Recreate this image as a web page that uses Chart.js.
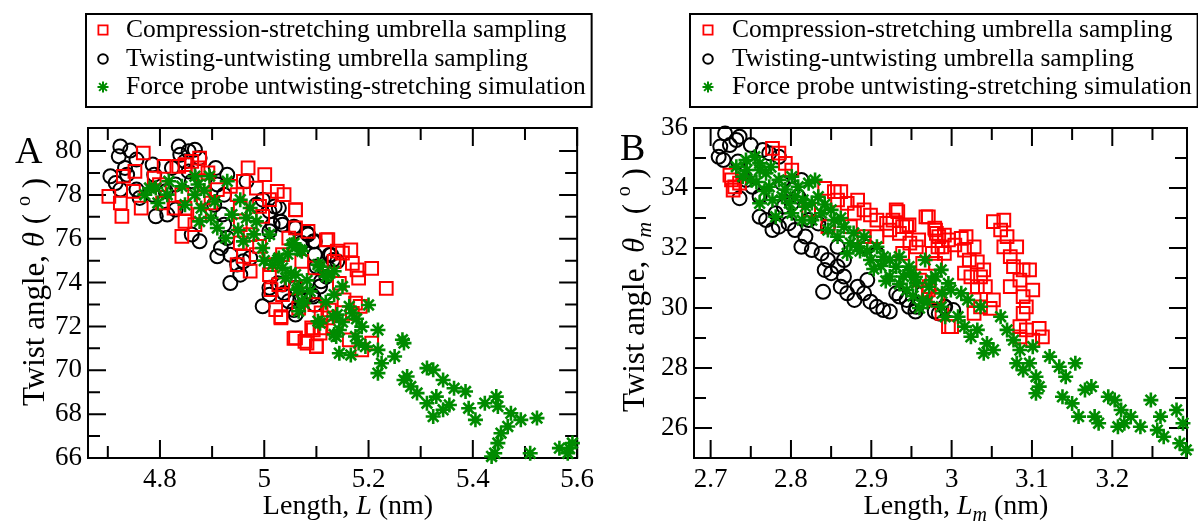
<!DOCTYPE html>
<html>
<head>
<meta charset="utf-8">
<script src="https://cdn.jsdelivr.net/npm/chart.js@4.4.0/dist/chart.umd.min.js"></script>
<style>
  body { margin: 0; background: #fff; width: 1198px; height: 523px; overflow: hidden; position: relative; }
  canvas { position: absolute; top: 0; }
</style>
</head>
<body>
<canvas id="chartA" width="600" height="523" style="left:0"></canvas>
<canvas id="chartB" width="598" height="523" style="left:600px"></canvas>
<script>
// ---- panel A: length L (nm) vs twist angle theta (deg) ----
const compA = [
  [4.702,77.93],[4.724,77.63],[4.727,77.02],[4.730,78.85],[4.752,79.07],[4.768,79.91],[4.749,78.16],[4.764,77.40],
  [4.789,78.77],[4.799,78.47],[4.808,79.30],[4.805,77.63],[4.827,77.40],[4.836,79.30],[4.848,79.38],[4.861,79.53],
  [4.876,79.68],[4.873,79.23],[4.892,79.00],[4.883,78.62],[4.842,78.01],[4.848,77.40],[4.848,76.79],[4.842,76.11],
  [4.867,76.64],[4.876,77.10],[4.883,77.86],[4.898,77.63],[4.910,78.24],[4.935,78.39],[4.948,78.01],[4.954,77.40],
  [4.960,78.62],[4.969,79.23],[5.001,78.92],[4.985,78.31],[4.991,77.48],[4.997,77.02],[5.010,77.78],[5.025,78.16],
  [5.038,78.01],[5.060,77.33],[4.954,76.64],[4.973,76.19],[4.954,75.81],[4.960,75.20],[4.948,74.82],[4.973,74.52],
  [4.985,75.27],[4.991,75.65],[5.013,74.82],[5.035,75.27],[5.047,76.03],[5.060,76.49],[5.084,76.34],[5.122,75.96],
  [5.072,74.97],[5.097,74.67],[5.060,73.76],[5.035,73.45],[5.010,74.36],[5.028,73.91],[5.013,73.68],[5.022,72.77],
  [5.032,72.39],[5.060,71.48],[5.078,71.32],[5.100,71.10],[5.091,71.93],[5.109,72.62],[5.109,71.93],[5.134,74.97],
  [5.140,75.43],[5.066,72.84],[5.097,72.99],[5.122,72.39],[5.060,77.31],[5.119,75.95],[5.150,75.34],[5.166,75.49],
  [5.169,74.88],[5.178,74.58],[5.206,74.65],[5.234,73.74],[5.181,74.20],[5.144,73.97],[5.153,73.21],[5.175,73.06],
  [5.184,72.91],[5.169,72.60],[5.125,72.75],[5.132,71.99],[5.094,71.84],[5.107,71.69],[5.057,71.46],[5.082,71.24],
  [5.100,71.08],[5.187,70.93],[5.206,71.24],[5.032,72.45],[5.163,71.39]
];
const twistA = [
  [4.724,80.21],[4.743,80.02],[4.721,79.76],[4.755,79.61],[4.733,79.23],[4.705,78.85],[4.715,78.54],[4.724,78.24],
  [4.737,78.92],[4.755,78.24],[4.761,77.86],[4.786,79.38],[4.789,78.92],[4.786,78.01],[4.792,77.02],[4.811,78.16],
  [4.814,77.10],[4.830,77.33],[4.836,80.21],[4.839,79.83],[4.855,79.99],[4.867,80.06],[4.876,79.68],[4.848,79.53],
  [4.855,79.07],[4.861,78.62],[4.823,79.23],[4.830,78.47],[4.907,79.23],[4.929,78.92],[4.910,78.47],[4.923,78.01],
  [4.904,77.55],[4.920,77.10],[4.923,76.64],[4.929,76.03],[4.876,75.88],[4.861,76.19],[4.917,75.58],[4.910,75.20],
  [4.935,75.27],[4.948,74.82],[4.960,74.97],[4.935,73.98],[4.954,74.36],[4.973,75.12],[4.966,78.62],[4.985,77.55],
  [4.997,77.78],[5.010,77.25],[5.028,77.40],[5.016,76.64],[5.035,76.64],[5.010,76.34],[5.060,76.49],[5.084,76.19],
  [5.097,75.88],[5.072,75.81],[5.097,75.27],[5.128,75.27],[5.140,74.97],[5.122,74.67],[5.109,74.06],[5.010,73.76],
  [4.997,72.92],[5.010,73.45],[5.035,73.91],[5.060,73.76],[5.060,72.54],[5.047,73.15],[5.078,73.30],[5.091,73.45],
  [5.097,72.99],[5.020,77.47],[5.032,76.78],[5.057,76.55],[5.082,76.25],[5.094,75.87],[5.125,75.26],[5.132,75.03],
  [5.100,74.73],[5.119,74.27],[5.107,73.82],[5.094,73.36],[5.069,73.21],[5.057,72.75],[5.038,73.52],[5.026,73.97]
];
const forceA = [
  [4.780,78.31],[4.796,77.63],[4.814,78.01],[4.817,78.62],[4.842,78.39],[4.867,78.85],[4.895,78.85],[4.929,78.62],
  [4.867,78.01],[4.879,77.40],[4.876,76.79],[4.898,76.95],[4.910,76.49],[4.926,76.03],[4.954,77.78],[4.960,75.88],
  [4.966,76.95],[4.985,76.79],[5.010,76.19],[4.997,75.58],[5.028,75.12],[5.035,74.67],[5.053,75.73],[5.072,75.43],
  [5.060,74.36],[5.066,73.76],[5.072,73.15],[5.066,72.69],[5.103,74.82],[5.122,74.36],[5.134,74.52],[5.134,73.45],
  [5.140,72.54],[5.103,72.24],[5.134,71.63],[5.016,74.82],[4.873,78.47],[4.848,77.55],[4.792,78.31],[4.771,78.01],
  [4.973,77.40],[5.041,74.21],[5.026,75.03],[5.057,75.79],[5.069,75.49],[5.051,74.43],[5.063,73.67],[5.076,73.06],
  [5.107,74.73],[5.119,74.27],[5.150,73.82],[5.163,72.91],[5.169,72.60],[5.132,72.45],[5.107,72.15],[5.144,71.84],
  [5.138,71.54],[5.144,70.78],[5.166,70.70],[5.175,71.54],[5.187,71.99],[5.200,72.98],[5.218,71.84],[5.218,70.93],
  [5.181,71.24],[5.194,71.08],[5.225,70.32],[5.218,69.87],[5.250,70.63],[5.265,71.39],[5.268,71.24],[5.268,69.56],
  [5.274,69.72],[5.281,69.26],[5.293,68.96],[5.312,70.10],[5.324,70.02],[5.343,69.56],[5.364,69.18],[5.386,69.03],
  [5.312,68.50],[5.330,68.80],[5.324,67.89],[5.343,68.20],[5.355,68.42],[5.392,68.27],[5.405,67.74],[5.423,68.50],
  [5.445,68.80],[5.448,68.35],[5.473,68.04],[5.492,67.74],[5.523,67.82],[5.467,67.44],[5.454,67.13],[5.448,66.68],
  [5.442,66.22],[5.436,66.07],[5.510,66.22],[5.566,66.45],[5.585,66.45],[5.591,66.68],[5.582,66.22],
  [4.885,78.20],[4.905,77.70],[4.938,77.10],[4.950,76.40],[4.980,76.20],[5.000,75.00],[5.045,75.30],[5.082,74.10],
  [5.088,73.60],[5.118,73.10],[5.150,72.20],[5.177,72.35]
];

// ---- panel B: length Lm (nm) vs twist angle theta_m (deg) ----
const compB = [
  [2.724,34.43],[2.730,34.04],[2.728,33.93],[2.736,34.16],[2.726,34.27],[2.777,35.32],[2.785,35.16],[2.793,34.82],
  [2.801,34.60],[2.842,33.99],[2.854,33.88],[2.862,33.88],[2.858,33.60],[2.870,33.49],[2.883,33.60],[2.891,33.27],
  [2.879,33.16],[2.899,33.10],[2.907,32.93],[2.919,32.82],[2.927,32.93],[2.931,33.27],[2.923,32.60],[2.944,32.71],
  [2.948,32.16],[2.956,32.04],[2.968,33.04],[2.980,32.60],[2.984,32.38],[2.976,31.82],[2.980,31.49],[2.988,32.04],
  [2.996,32.27],[2.960,30.93],[2.980,30.27],[2.988,29.82],[2.996,29.38],[2.822,33.27],[2.846,32.71],[2.874,32.71],
  [2.891,32.38],[2.907,32.38],[2.939,31.82],[2.964,31.49],[2.972,30.71],[2.933,33.21],[2.947,32.77],[2.971,33.04],
  [2.979,32.66],[2.981,32.49],[2.991,32.43],[3.012,32.32],[3.018,32.38],[3.004,32.10],[3.016,31.93],[3.028,32.04],
  [3.022,31.60],[3.032,31.54],[3.040,31.27],[3.016,31.16],[3.024,31.04],[3.036,31.04],[3.032,30.71],[3.042,30.71],
  [3.028,30.27],[3.052,30.27],[3.036,30.04],[3.028,29.82],[3.048,29.99],[3.000,29.38],[3.052,32.88],[3.065,32.93],
  [3.061,32.60],[3.069,32.38],[3.065,32.04],[3.073,31.71],[3.081,32.04],[3.077,31.38],[3.089,31.27],[3.097,31.27],
  [3.085,30.93],[3.073,30.71],[3.101,30.60],[3.089,30.38],[3.093,30.04],[3.089,29.82],[3.085,29.38],[3.093,29.27],
  [3.109,29.32],[3.113,29.04],[3.101,28.93],[3.085,29.04],[2.983,32.04],[2.991,31.82],[2.935,32.49],[2.959,32.27],
  [2.971,30.60],[2.983,30.38],[2.939,32.71]
];
const twistB = [
  [2.718,35.82],[2.724,35.43],[2.712,35.38],[2.710,35.04],[2.716,34.93],[2.732,35.60],[2.736,35.71],[2.750,35.43],
  [2.734,34.88],[2.740,34.49],[2.736,33.66],[2.744,34.27],[2.752,34.04],[2.761,33.71],[2.761,33.04],[2.769,32.93],
  [2.777,32.60],[2.785,32.71],[2.781,33.16],[2.791,33.38],[2.789,34.16],[2.801,33.93],[2.809,33.71],[2.801,33.49],
  [2.785,35.04],[2.773,35.16],[2.765,35.27],[2.813,34.27],[2.805,32.60],[2.818,32.38],[2.826,31.93],[2.813,32.04],
  [2.838,31.82],[2.846,31.60],[2.842,31.27],[2.850,31.16],[2.858,31.38],[2.866,31.05],[2.862,30.71],[2.870,30.49],
  [2.879,30.27],[2.883,30.71],[2.891,30.49],[2.895,30.93],[2.899,30.21],[2.907,30.04],[2.915,29.93],[2.923,29.88],
  [2.895,32.04],[2.907,31.82],[2.840,30.54],[2.797,32.82],[2.846,32.71],[2.834,32.82],[2.822,32.93],[2.858,32.04],
  [2.866,31.60],[2.944,30.27],[2.956,30.04],[2.984,29.82],[2.992,30.04],[2.931,30.49],[2.964,30.49],[2.935,30.38],
  [2.947,30.04],[2.955,29.88],[2.979,29.88],[2.991,30.04],[3.002,29.93]
];
const forceB = [
  [2.732,34.71],[2.744,34.93],[2.755,35.04],[2.761,34.60],[2.750,34.27],[2.769,34.49],[2.773,34.04],[2.777,33.60],
  [2.761,33.49],[2.785,34.27],[2.789,33.71],[2.801,34.38],[2.809,34.04],[2.822,34.16],[2.830,34.27],[2.834,33.71],
  [2.818,33.38],[2.801,33.16],[2.814,32.93],[2.826,32.93],[2.838,33.16],[2.850,33.27],[2.854,32.93],[2.866,32.71],
  [2.858,32.38],[2.874,32.16],[2.870,31.82],[2.883,32.04],[2.891,32.38],[2.899,31.60],[2.907,32.04],[2.915,31.71],
  [2.923,31.60],[2.931,31.38],[2.923,31.05],[2.940,31.05],[2.948,31.16],[2.956,30.82],[2.944,30.60],[2.964,30.27],
  [2.972,30.71],[2.980,31.05],[2.988,30.49],[2.992,29.71],[2.781,33.04],[2.805,33.71],[2.761,34.82],[2.740,34.38],
  [2.935,31.71],[2.947,31.38],[2.955,31.04],[2.967,31.60],[2.975,30.93],[2.987,31.27],[2.996,30.82],[2.987,30.04],
  [2.999,30.60],[3.012,30.49],[3.020,30.27],[3.008,29.71],[3.016,29.38],[3.024,29.04],[3.036,30.04],[3.032,29.27],
  [3.044,28.82],[3.040,28.49],[3.052,28.60],[3.061,29.71],[3.069,29.27],[3.077,28.93],[3.085,28.60],[3.101,28.71],
  [3.097,28.16],[3.081,28.16],[3.089,27.93],[3.105,27.71],[3.109,27.38],[3.105,27.16],[3.122,28.38],[3.134,28.04],
  [3.142,27.71],[3.138,27.04],[3.154,28.16],[3.150,26.82],[3.158,26.38],[3.166,27.27],[3.174,27.38],[3.178,26.38],
  [3.183,26.16],[3.195,27.04],[3.203,26.93],[3.211,26.60],[3.207,26.04],[3.215,26.16],[3.223,26.38],[3.235,26.04],
  [3.248,26.93],[3.260,26.38],[3.256,25.93],[3.264,25.71],[3.280,26.60],[3.284,25.49],[3.288,26.16],[3.292,25.27],
  [2.745,34.60],[2.757,34.20],[2.767,33.90],[2.775,34.70],[2.793,33.95],[2.798,33.50],[2.815,33.60],[2.826,33.50],
  [2.842,33.45],[2.846,32.60],[2.862,33.00],[2.878,32.50],[2.886,31.90],[2.895,31.90],[2.903,31.30],[2.912,31.40],
  [2.918,30.90],[2.935,30.80],[2.952,30.40],[2.960,30.00],[2.970,30.20]
];

const seriesNames = [
  'Compression-stretching umbrella sampling',
  'Twisting-untwisting umbrella sampling',
  'Force probe untwisting-stretching simulation'
];

// ticks
const xTicksA = [4.8, 5, 5.2, 5.4, 5.6];
const xMinorA = [4.7, 4.9, 5.1, 5.3, 5.5];
const yTicksA = [66, 68, 70, 72, 74, 76, 78, 80];
const yMinorA = [67, 69, 71, 73, 75, 77, 79];
const xTicksB = [2.7, 2.8, 2.9, 3, 3.1, 3.2];
const xMinorB = [2.75, 2.85, 2.95, 3.05, 3.15, 3.25];
const yTicksB = [26, 28, 30, 32, 34, 36];
const yMinorB = [27, 29, 31, 33, 35];

const FONT = '"Liberation Serif", "Times New Roman", serif';
const RED = '#ff0000', BLACK = '#000000', GREEN = '#008b00';

const toXY = arr => arr.map(p => ({ x: p[0], y: p[1] }));

function fontFor(p, base) {
  const size = Math.round(base * (p.size || 1));
  return (p.it ? 'italic ' : '') + size + 'px ' + FONT;
}

function drawRich(ctx, parts, x, y, base) {
  let total = 0;
  const ws = parts.map(p => {
    ctx.font = fontFor(p, base);
    const w = ctx.measureText(p.t).width;
    total += w;
    return w;
  });
  let cx = x - total / 2;
  parts.forEach((p, i) => {
    ctx.font = fontFor(p, base);
    ctx.fillText(p.t, cx, y + (p.dy || 0));
    cx += ws[i];
  });
}

const decor = {
  id: 'decor',
  beforeDatasetsDraw(chart, args, o) {
    const { ctx, chartArea: a, scales: { x, y } } = chart;
    ctx.save();
    ctx.strokeStyle = '#000';
    ctx.lineWidth = 2;
    ctx.strokeRect(a.left, a.top, a.right - a.left, a.bottom - a.top);
    ctx.beginPath();
    const xt = (vals, len) => vals.forEach(v => {
      const px = x.getPixelForValue(v);
      ctx.moveTo(px, a.bottom); ctx.lineTo(px, a.bottom - len);
      ctx.moveTo(px, a.top); ctx.lineTo(px, a.top + len);
    });
    const yt = (vals, len) => vals.forEach(v => {
      const py = y.getPixelForValue(v);
      ctx.moveTo(a.left, py); ctx.lineTo(a.left + len, py);
      ctx.moveTo(a.right, py); ctx.lineTo(a.right - len, py);
    });
    xt(o.xMajor, 18); xt(o.xMinor, 12);
    yt(o.yMajor, 18); yt(o.yMinor, 12);
    ctx.stroke();
    ctx.restore();
  },
  afterDraw(chart, args, o) {
    const { ctx } = chart;
    ctx.save();
    ctx.fillStyle = '#000';
    ctx.textBaseline = 'alphabetic';
    // panel letter
    ctx.font = '38px ' + FONT;
    ctx.textAlign = 'left';
    ctx.fillText(o.letter, o.letterX, o.letterY);
    // axis titles
    drawRich(ctx, o.xTitle, o.xTitleX, o.xTitleY, 28);
    ctx.save();
    ctx.translate(o.yTitleX, o.yTitleY);
    ctx.rotate(-Math.PI / 2);
    drawRich(ctx, o.yTitle, 0, 0, 31);
    ctx.restore();
    // legend
    const lg = o.legend;
    ctx.font = '25.5px ' + FONT;
    let maxW = 0;
    seriesNames.forEach(n => { maxW = Math.max(maxW, ctx.measureText(n).width); });
    ctx.lineWidth = 2;
    ctx.strokeStyle = '#000';
    ctx.strokeRect(lg.left, lg.top, lg.textX + maxW + 6 - lg.left, lg.bottom - lg.top);
    const styles = [
      { s: 'rect', r: 6.5, c: RED, w: 1.8 },
      { s: 'circle', r: 4.8, c: BLACK, w: 2 },
      { s: 'star', r: 5.5, c: GREEN, w: 2 }
    ];
    seriesNames.forEach((n, i) => {
      const yy = lg.rows[i];
      const st = styles[i];
      ctx.strokeStyle = st.c;
      ctx.fillStyle = 'rgba(0,0,0,0)';
      ctx.lineWidth = st.w;
      Chart.helpers.drawPoint(ctx, { pointStyle: st.s, radius: st.r, borderWidth: st.w, rotation: 0 }, lg.markX, yy);
      ctx.fillStyle = '#000';
      ctx.textBaseline = 'middle';
      ctx.fillText(n, lg.textX, yy);
    });
    ctx.restore();
  }
};

function makeChart(id, comp, twist, force, cfg) {
  return new Chart(document.getElementById(id), {
    type: 'scatter',
    data: {
      datasets: [
        { label: seriesNames[2], data: toXY(force), order: 0, pointStyle: 'star', pointRadius: 7.5,
          borderColor: GREEN, backgroundColor: GREEN, pointBorderWidth: 2.6, clip: false },
        { label: seriesNames[0], data: toXY(comp), order: 1, pointStyle: 'rect', pointRadius: 9,
          borderColor: RED, backgroundColor: 'rgba(0,0,0,0)', pointBorderWidth: 2, clip: false },
        { label: seriesNames[1], data: toXY(twist), order: 2, pointStyle: 'circle', pointRadius: 7,
          borderColor: BLACK, backgroundColor: 'rgba(0,0,0,0)', pointBorderWidth: 2, clip: false }
      ]
    },
    options: {
      responsive: false,
      animation: false,
      events: [],
      layout: { padding: { left: 0, right: cfg.padRight, top: 128, bottom: 0 } },
      plugins: {
        legend: { display: false },
        tooltip: { enabled: false },
        decor: cfg.decor
      },
      scales: {
        x: {
          type: 'linear', min: cfg.xMin, max: cfg.xMax,
          grid: { display: false, drawTicks: false }, border: { display: false },
          afterBuildTicks: s => { s.ticks = cfg.xTicks.map(v => ({ value: v })); },
          afterFit: s => { s.height = 65; },
          ticks: { color: '#000', padding: 6, font: { family: FONT, size: 27 },
                   maxRotation: 0, autoSkip: false, callback: v => String(+v.toFixed(2)) }
        },
        y: {
          type: 'linear', min: cfg.yMin, max: cfg.yMax,
          grid: { display: false, drawTicks: false }, border: { display: false },
          afterBuildTicks: s => { s.ticks = cfg.yTicks.map(v => ({ value: v })); },
          afterFit: s => { s.width = cfg.yWidth; },
          ticks: { color: '#000', padding: 6, font: { family: FONT, size: 27 },
                   autoSkip: false, callback: v => String(v) }
        }
      }
    },
    plugins: [decor]
  });
}

makeChart('chartA', compA, twistA, forceA, {
  xMin: 4.662, xMax: 5.6, yMin: 66, yMax: 81.05, xTicks: xTicksA, yTicks: yTicksA,
  yWidth: 88, padRight: 8,
  decor: {
    xMajor: xTicksA, xMinor: xMinorA, yMajor: yTicksA, yMinor: yMinorA,
    letter: 'A', letterX: 15, letterY: 163,
    xTitle: [{ t: 'Length, ' }, { t: 'L', it: true }, { t: ' (nm)' }], xTitleX: 348, xTitleY: 514,
    yTitle: [{ t: 'Twist angle, ' }, { t: 'θ', it: true }, { t: ' ( ' }, { t: 'o', size: 0.65, dy: -14 }, { t: ' )' }],
    yTitleX: 44, yTitleY: 292,
    legend: { left: 86, top: 14, bottom: 107, markX: 103, textX: 126, rows: [30, 59, 87] }
  }
});

makeChart('chartB', compB, twistB, forceB, {
  xMin: 2.6793, xMax: 3.293, yMin: 25, yMax: 36, xTicks: xTicksB, yTicks: yTicksB,
  yWidth: 94, padRight: 1,
  decor: {
    xMajor: xTicksB, xMinor: xMinorB, yMajor: yTicksB, yMinor: yMinorB,
    letter: 'B', letterX: 20, letterY: 160,
    xTitle: [{ t: 'Length, ' }, { t: 'L', it: true }, { t: 'm', it: true, size: 0.7, dy: 7 }, { t: ' (nm)' }],
    xTitleX: 356, xTitleY: 514,
    yTitle: [{ t: 'Twist angle, ' }, { t: 'θ', it: true }, { t: 'm', it: true, size: 0.7, dy: 7 },
             { t: ' ( ' }, { t: 'o', size: 0.65, dy: -14 }, { t: ' )' }],
    yTitleX: 44, yTitleY: 290,
    legend: { left: 90, top: 14, bottom: 107, markX: 108, textX: 132, rows: [30, 59, 87] }
  }
});
</script>
</body>
</html>
